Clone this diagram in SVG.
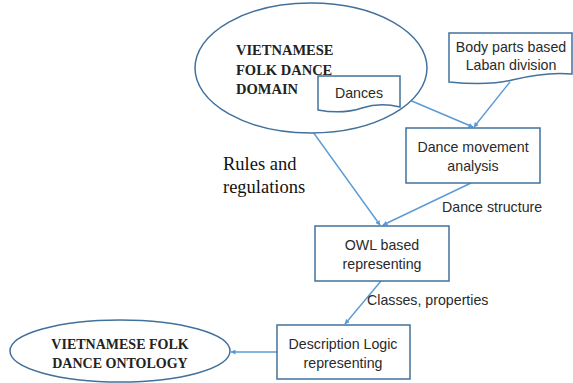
<svg xmlns="http://www.w3.org/2000/svg" width="573" height="383" viewBox="0 0 573 383">
<defs>
<marker id="ah" viewBox="0 0 10 10" refX="9" refY="5" markerWidth="5" markerHeight="5" orient="auto" markerUnits="userSpaceOnUse">
<path d="M0,0 L10,5 L0,10 z" fill="#5B9BD5"/>
</marker>
<style>
.shape{fill:#fff;stroke:#41719C;stroke-width:1.5}
.conn{fill:none;stroke:#5B9BD5;stroke-width:1.4;marker-end:url(#ah)}
.lbl{font-family:"Liberation Sans","Open Sans",sans-serif;font-size:14.2px;fill:#2a2a2a;text-anchor:middle}
.elab{font-family:"Liberation Sans","Open Sans",sans-serif;font-size:14.2px;fill:#2a2a2a}
.deco{font-family:"Liberation Serif","DejaVu Serif",serif;font-weight:bold;font-size:14.5px;fill:#222}
.rules{font-family:"Liberation Serif","Times New Roman",serif;font-size:18.5px;fill:#111}
</style>
</defs>
<rect width="573" height="383" fill="#fff"/>
<g id="connectors">
<line class="conn" x1="313" y1="132" x2="380" y2="225"/>
<line class="conn" x1="400" y1="96" x2="473" y2="127"/>
<line class="conn" x1="510" y1="82" x2="474" y2="127"/>
<line class="conn" x1="471" y1="183" x2="383" y2="225"/>
<line class="conn" x1="381" y1="281" x2="345" y2="324"/>
<line class="conn" x1="277" y1="352" x2="231" y2="352"/>
</g>
<g id="domain">
<ellipse class="shape" cx="311" cy="68" rx="116" ry="65"/>
<text class="deco" x="236" y="55">VIETNAMESE</text>
<text class="deco" x="236" y="75">FOLK DANCE</text>
<text class="deco" x="236" y="94">DOMAIN</text>
</g>
<g id="dances">
<path class="shape" d="M318,76 H400 V107 C388,104 374,104 362,108 C350,112 334,113 318,110 Z"/>
<text class="lbl" x="359" y="98">Dances</text>
</g>
<g id="bodyparts">
<path class="shape" d="M449,33 H572 V74 C552,72 532,75 512,80 C492,85 470,84 449,82 Z"/>
<text class="lbl" x="511" y="52">Body parts based</text>
<text class="lbl" x="511" y="70">Laban division</text>
</g>
<g id="movement">
<rect class="shape" x="406" y="128" width="134" height="55"/>
<text class="lbl" x="473" y="152">Dance movement</text>
<text class="lbl" x="473" y="171">analysis</text>
</g>
<g id="owl">
<rect class="shape" x="315" y="226" width="134" height="55"/>
<text class="lbl" x="382" y="250">OWL based</text>
<text class="lbl" x="382" y="269">representing</text>
</g>
<g id="dl">
<rect class="shape" x="277" y="325" width="133" height="54"/>
<text class="lbl" x="343" y="349">Description Logic</text>
<text class="lbl" x="343" y="368">representing</text>
</g>
<g id="ontology">
<ellipse class="shape" cx="120" cy="351" rx="110" ry="31"/>
<text class="deco" x="120" y="349" text-anchor="middle" style="font-size:14px">VIETNAMESE FOLK</text>
<text class="deco" x="120" y="368" text-anchor="middle" style="font-size:14px">DANCE ONTOLOGY</text>
</g>
<g id="labels">
<text class="rules" x="223" y="170">Rules and</text>
<text class="rules" x="223" y="193">regulations</text>
<text class="elab" x="442" y="212">Dance structure</text>
<text class="elab" x="367" y="305">Classes, properties</text>
</g>
</svg>
